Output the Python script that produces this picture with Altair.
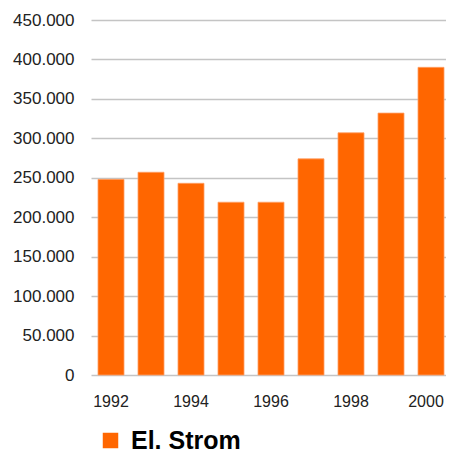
import altair as alt
import pandas as pd

years = [1992, 1993, 1994, 1995, 1996, 1997, 1998, 1999, 2000]
values = [248000, 257000, 243000, 219000, 219000, 274000, 307000, 332000, 390000]
series = ["El. Strom"] * len(years)
y_ticks = [0, 50000, 100000, 150000, 200000, 250000, 300000, 350000, 400000, 450000]
x_label_years = ["1992", "1994", "1996", "1998", "2000"]

df = pd.DataFrame({"Jahr": [str(y) for y in years], "Wert": values, "Serie": series})

chart = alt.Chart(df).mark_bar(stroke="#ff9f66", strokeWidth=0.8).encode(
    x=alt.X("Jahr:N",
            scale=alt.Scale(paddingInner=0.35, paddingOuter=0.175, range=[0, 360]),
            axis=alt.Axis(title=None, values=x_label_years, labelAngle=0, ticks=False,
                          domain=False, grid=False, labelPadding=18, labelFontSize=16,
                          labelFont="Liberation Sans", labelColor="#222222",
                          labelOffset={"condition": {"test": "datum.value === '2000'", "value": -5},
                                       "value": 0})),
    y=alt.Y("Wert:Q",
            scale=alt.Scale(domain=[0, 450000], nice=False),
            axis=alt.Axis(title=None, values=y_ticks, ticks=False, domain=False,
                          grid=True, gridColor="#c4c4c4", gridWidth=1.5,
                          labelPadding=17, labelFontSize=17, labelFont="Liberation Sans",
                          labelColor="#222222",
                          labelExpr="replace(format(datum.value, ','), ',', '.')")),
    color=alt.Color("Serie:N",
                    scale=alt.Scale(range=["#FF6600"]),
                    legend=alt.Legend(title=None, orient="none", legendX=7, legendY=408,
                                      symbolType="square", symbolSize=240,
                                      symbolStrokeWidth=0, labelFontSize=25,
                                      labelFont="Liberation Sans", labelFontWeight="bold",
                                      labelColor="#000000", labelOffset=8, padding=0)),
).properties(
    width=355,
    height=355,
    autosize=alt.AutoSizeParams(type="none"),
    padding={"left": 83, "top": 12, "right": 0, "bottom": 80},
).configure_view(stroke=None)

chart.save("out.html", embed_options={"renderer": "svg", "actions": False})
